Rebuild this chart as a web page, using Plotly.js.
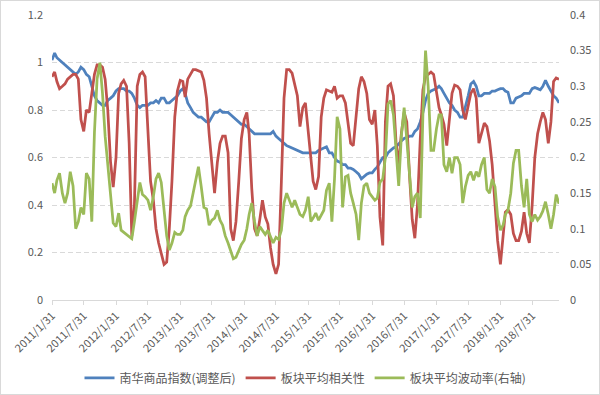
<!DOCTYPE html>
<html>
<head>
<meta charset="utf-8">
<script src="https://cdn.plot.ly/plotly-3.0.1.min.js"></script>
<style>
html,body{margin:0;padding:0;background:#fff;}
#wrap{width:600px;height:395px;box-sizing:border-box;border:1px solid #d9d9d9;}
#chart{width:598px;height:393px;}
</style>
</head>
<body>
<div id="wrap"><div id="chart"></div></div>
<script>
const dates = [
"2011-01-31","2011-02-15","2011-02-28","2011-03-15","2011-03-31","2011-04-15","2011-04-30","2011-05-15","2011-05-31","2011-06-15","2011-06-30","2011-07-15","2011-07-31","2011-08-15","2011-08-31","2011-09-15","2011-09-30","2011-10-15","2011-10-31","2011-11-15","2011-11-30","2011-12-15","2011-12-31","2012-01-15",
"2012-01-31","2012-02-15","2012-02-29","2012-03-15","2012-03-31","2012-04-15","2012-04-30","2012-05-15","2012-05-31","2012-06-15","2012-06-30","2012-07-15","2012-07-31","2012-08-15","2012-08-31","2012-09-15","2012-09-30","2012-10-15","2012-10-31","2012-11-15","2012-11-30","2012-12-15","2012-12-31","2013-01-15",
"2013-01-31","2013-02-15","2013-02-28","2013-03-15","2013-03-31","2013-04-15","2013-04-30","2013-05-15","2013-05-31","2013-06-15","2013-06-30","2013-07-15","2013-07-31","2013-08-15","2013-08-31","2013-09-15","2013-09-30","2013-10-15","2013-10-31","2013-11-15","2013-11-30","2013-12-15","2013-12-31","2014-01-15",
"2014-01-31","2014-02-15","2014-02-28","2014-03-15","2014-03-31","2014-04-15","2014-04-30","2014-05-15","2014-05-31","2014-06-15","2014-06-30","2014-07-15","2014-07-31","2014-08-15","2014-08-31","2014-09-15","2014-09-30","2014-10-15","2014-10-31","2014-11-15","2014-11-30","2014-12-15","2014-12-31","2015-01-15",
"2015-01-31","2015-02-15","2015-02-28","2015-03-15","2015-03-31","2015-04-15","2015-04-30","2015-05-15","2015-05-31","2015-06-15","2015-06-30","2015-07-15","2015-07-31","2015-08-15","2015-08-31","2015-09-15","2015-09-30","2015-10-15","2015-10-31","2015-11-15","2015-11-30","2015-12-15","2015-12-31","2016-01-15",
"2016-01-31","2016-02-15","2016-02-29","2016-03-15","2016-03-31","2016-04-15","2016-04-30","2016-05-15","2016-05-31","2016-06-15","2016-06-30","2016-07-15","2016-07-31","2016-08-15","2016-08-31","2016-09-15","2016-09-30","2016-10-15","2016-10-31","2016-11-15","2016-11-30","2016-12-15","2016-12-31","2017-01-15",
"2017-01-31","2017-02-15","2017-02-28","2017-03-15","2017-03-31","2017-04-15","2017-04-30","2017-05-15","2017-05-31","2017-06-15","2017-06-30","2017-07-15","2017-07-31","2017-08-15","2017-08-31","2017-09-15","2017-09-30","2017-10-15","2017-10-31","2017-11-15","2017-11-30","2017-12-15","2017-12-31","2018-01-15",
"2018-01-31","2018-02-15","2018-02-28","2018-03-15","2018-03-31","2018-04-15","2018-04-30","2018-05-15","2018-05-31","2018-06-15","2018-06-30","2018-07-15","2018-07-31","2018-08-15","2018-08-31","2018-09-15","2018-09-30","2018-10-15","2018-10-31","2018-11-15","2018-11-30","2018-12-15","2018-12-31"
];

// 南华商品指数(调整后) - left axis
const nanhua = [
1.01,1.04,1.02,1.01,1.00,0.99,0.98,0.97,0.96,0.95,0.96,0.98,0.97,0.95,0.94,0.90,0.86,0.84,0.83,0.82,0.82,0.84,0.85,0.86,
0.88,0.89,0.89,0.89,0.88,0.88,0.87,0.85,0.82,0.81,0.82,0.82,0.82,0.83,0.83,0.84,0.83,0.85,0.85,0.83,0.83,0.84,0.85,0.86,
0.88,0.89,0.87,0.83,0.81,0.79,0.78,0.77,0.77,0.76,0.75,0.75,0.77,0.79,0.79,0.80,0.79,0.79,0.79,0.78,0.77,0.76,0.75,0.74,
0.74,0.73,0.72,0.71,0.70,0.70,0.70,0.70,0.70,0.70,0.70,0.71,0.69,0.68,0.67,0.66,0.65,0.645,0.64,0.635,0.63,0.625,0.62,0.62,
0.62,0.62,0.62,0.62,0.63,0.635,0.64,0.645,0.62,0.62,0.60,0.585,0.58,0.57,0.57,0.555,0.555,0.55,0.54,0.53,0.51,0.52,0.53,0.535,
0.535,0.55,0.56,0.58,0.60,0.60,0.62,0.63,0.64,0.645,0.66,0.67,0.68,0.685,0.69,0.69,0.71,0.72,0.75,0.79,0.84,0.87,0.88,0.885,
0.89,0.90,0.89,0.87,0.85,0.83,0.82,0.80,0.79,0.77,0.77,0.81,0.86,0.91,0.92,0.90,0.86,0.86,0.87,0.87,0.87,0.88,0.88,0.885,
0.89,0.89,0.88,0.875,0.83,0.83,0.85,0.855,0.86,0.87,0.87,0.87,0.89,0.895,0.89,0.885,0.90,0.925,0.90,0.88,0.86,0.85,0.83
];

// 板块平均相关性 - left axis
const correlation = [
0.94,0.96,0.92,0.89,0.90,0.91,0.93,0.94,0.95,0.95,0.93,0.76,0.71,0.80,0.79,0.87,0.95,0.99,0.99,0.98,0.93,0.80,0.58,0.475,
0.60,0.87,0.91,0.925,0.90,0.66,0.27,0.40,0.90,0.95,0.96,0.94,0.70,0.50,0.42,0.30,0.24,0.19,0.15,0.16,0.30,0.50,0.77,0.88,
0.925,0.92,0.855,0.93,0.95,0.97,0.97,0.965,0.96,0.925,0.85,0.70,0.58,0.45,0.58,0.66,0.69,0.69,0.62,0.30,0.25,0.33,0.50,0.68,
0.76,0.79,0.70,0.47,0.30,0.27,0.34,0.42,0.35,0.32,0.22,0.15,0.11,0.15,0.50,0.85,0.97,0.97,0.955,0.91,0.86,0.73,0.81,0.83,
0.70,0.58,0.50,0.465,0.52,0.77,0.85,0.885,0.88,0.875,0.90,0.85,0.86,0.86,0.83,0.75,0.66,0.65,0.78,0.89,0.94,0.92,0.87,0.76,
0.74,0.80,0.65,0.35,0.23,0.75,0.90,0.91,0.86,0.66,0.57,0.70,0.79,0.75,0.52,0.34,0.26,0.40,0.68,0.885,0.94,0.95,0.96,0.95,
0.88,0.81,0.78,0.74,0.65,0.77,0.87,0.905,0.90,0.885,0.80,0.76,0.82,0.87,0.89,0.85,0.66,0.70,0.745,0.73,0.67,0.57,0.38,0.25,
0.15,0.27,0.37,0.38,0.36,0.28,0.25,0.25,0.29,0.37,0.28,0.24,0.40,0.60,0.70,0.75,0.79,0.76,0.66,0.75,0.92,0.935,0.93
];

// 板块平均波动率(右轴) - right axis
const volatility = [
0.164,0.15,0.168,0.178,0.15,0.136,0.15,0.18,0.16,0.10,0.11,0.13,0.12,0.178,0.17,0.11,0.235,0.31,0.333,0.29,0.23,0.19,0.145,0.108,
0.103,0.122,0.098,0.095,0.092,0.088,0.086,0.11,0.14,0.165,0.148,0.145,0.14,0.126,0.145,0.17,0.178,0.165,0.126,0.09,0.07,0.08,0.095,0.092,
0.092,0.098,0.117,0.126,0.132,0.15,0.17,0.187,0.159,0.13,0.128,0.105,0.112,0.115,0.126,0.112,0.105,0.09,0.08,0.068,0.058,0.06,0.07,0.078,
0.084,0.10,0.12,0.136,0.11,0.09,0.103,0.098,0.092,0.098,0.09,0.08,0.088,0.085,0.098,0.136,0.15,0.14,0.13,0.14,0.13,0.12,0.117,0.126,
0.145,0.11,0.115,0.122,0.112,0.12,0.126,0.154,0.164,0.11,0.17,0.257,0.24,0.13,0.173,0.175,0.15,0.136,0.12,0.084,0.136,0.16,0.164,0.15,
0.145,0.14,0.143,0.165,0.17,0.20,0.275,0.28,0.26,0.215,0.16,0.23,0.27,0.225,0.173,0.13,0.145,0.15,0.115,0.26,0.35,0.30,0.21,0.21,
0.24,0.26,0.26,0.19,0.18,0.20,0.178,0.20,0.20,0.19,0.136,0.159,0.175,0.18,0.168,0.18,0.173,0.19,0.20,0.155,0.15,0.17,0.159,0.117,
0.098,0.105,0.12,0.126,0.15,0.192,0.21,0.21,0.16,0.13,0.17,0.12,0.11,0.12,0.112,0.117,0.125,0.138,0.12,0.10,0.12,0.148,0.135
];

const tickDates = ["2011-01-31","2011-07-31","2012-01-31","2012-07-31","2013-01-31","2013-07-31","2014-01-31","2014-07-31",
"2015-01-31","2015-07-31","2016-01-31","2016-07-31","2017-01-31","2017-07-31","2018-01-31","2018-07-31"];
const tickLabels = ["2011/1/31","2011/7/31","2012/1/31","2012/7/31","2013/1/31","2013/7/31","2014/1/31","2014/7/31",
"2015/1/31","2015/7/31","2016/1/31","2016/7/31","2017/1/31","2017/7/31","2018/1/31","2018/7/31"];

const names = ["南华商品指数(调整后)","板块平均相关性","板块平均波动率(右轴)"];
const colors = ["#4F81BD","#C0504D","#9BBB59"];

const traces = [
  {x: dates, y: nanhua, name: names[0], type: "scatter", mode: "lines", line: {color: colors[0], width: 2.75}, yaxis: "y"},
  {x: dates, y: correlation, name: names[1], type: "scatter", mode: "lines", line: {color: colors[1], width: 2.75}, yaxis: "y"},
  {x: dates, y: volatility, name: names[2], type: "scatter", mode: "lines", line: {color: colors[2], width: 2.75}, yaxis: "y2"}
];

const font = {family: "'Noto Sans CJK SC', 'Noto Sans', sans-serif", size: 11, color: "#595959"};

const layout = {
  width: 598, height: 393,
  margin: {l: 51, r: 40, t: 14, b: 94, autoexpand: false},
  paper_bgcolor: "#ffffff", plot_bgcolor: "#ffffff",
  font: font,
  showlegend: true,
  legend: {orientation: "h", x: 0.5, xanchor: "center", yref: "container", y: 0.041, yanchor: "middle",
           font: {family: font.family, size: 12, color: "#595959"}, traceorder: "normal", itemwidth: 30},
  xaxis: {
    type: "date", range: ["2011-01-31", "2018-12-31"], automargin: false,
    tickmode: "array", tickvals: tickDates, ticktext: tickLabels, tickangle: -45,
    ticks: "outside", ticklen: 4, tickcolor: "#d9d9d9",
    showline: true, linecolor: "#d9d9d9", linewidth: 1,
    showgrid: false, zeroline: false,
    tickfont: {family: font.family, size: 11, color: "#595959"}
  },
  yaxis: {
    range: [0, 1.2], dtick: 0.2, tick0: 0, automargin: false,
    showgrid: true, gridcolor: "#d9d9d9", griddash: "5px,3px", gridwidth: 1,
    zeroline: false, showline: false, ticks: "", ticklabelstandoff: 8,
    tickfont: {family: font.family, size: 11, color: "#595959"}
  },
  yaxis2: {
    range: [0, 0.4], dtick: 0.05, tick0: 0, automargin: false,
    overlaying: "y", side: "right",
    showgrid: false, zeroline: false, showline: false, ticks: "", ticklabelstandoff: 10,
    tickfont: {family: font.family, size: 11, color: "#595959"}
  }
};

Plotly.newPlot("chart", traces, layout, {displayModeBar: false, staticPlot: true});
</script>
</body>
</html>
